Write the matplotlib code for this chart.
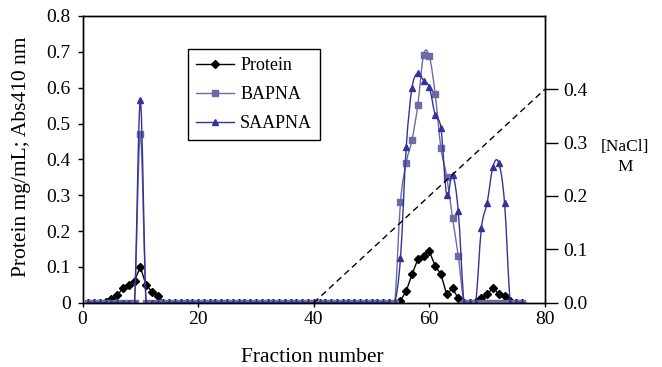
import numpy as np
import matplotlib
matplotlib.use("Agg")
import matplotlib.pyplot as plt
from matplotlib.path import Path
from matplotlib.patches import PathPatch
from matplotlib.lines import Line2D

plt.rcParams['font.family'] = ['Liberation Serif', 'DejaVu Serif']

# ---------------- data ----------------
fractions = list(range(1, 77))

protein_nonzero = {4: 0.003, 5: 0.010, 6: 0.021, 7: 0.040, 8: 0.049, 9: 0.061,
                   10: 0.100, 11: 0.049, 12: 0.031, 13: 0.020,
                   55: 0.005, 56: 0.033, 57: 0.079, 58: 0.121, 59: 0.131,
                   60: 0.143, 61: 0.103, 62: 0.079, 63: 0.023, 64: 0.040,
                   65: 0.012, 68: 0.003, 69: 0.013, 70: 0.023, 71: 0.042,
                   72: 0.024, 73: 0.018, 74: 0.005}
bapna_nonzero = {10: 0.470, 55: 0.280, 56: 0.391, 57: 0.455, 58: 0.552,
                 59: 0.692, 60: 0.687, 61: 0.583, 62: 0.431, 63: 0.352,
                 64: 0.237, 65: 0.130}
saapna_nonzero = {10: 0.565, 55: 0.124, 56: 0.434, 57: 0.600, 58: 0.640,
                  59: 0.620, 60: 0.601, 61: 0.524, 62: 0.487, 63: 0.301,
                  64: 0.357, 65: 0.255, 69: 0.208, 70: 0.279, 71: 0.380,
                  72: 0.390, 73: 0.279}

protein = [protein_nonzero.get(f, 0.0) for f in fractions]
bapna = [bapna_nonzero.get(f, 0.0) for f in fractions]
saapna = [saapna_nonzero.get(f, 0.0) for f in fractions]

nacl_x = [40, 80]
nacl_y = [0.0, 0.4]

left_ticks = [0, 0.1, 0.2, 0.3, 0.4, 0.5, 0.6, 0.7, 0.8]
left_labels = ["0", "0.1", "0.2", "0.3", "0.4", "0.5", "0.6", "0.7", "0.8"]
right_ticks = [0.0, 0.1, 0.2, 0.3, 0.4]
right_labels = ["0.0", "0.1", "0.2", "0.3", "0.4"]
x_ticks = [0, 20, 40, 60, 80]

# ---------------- style ----------------
C_PROT = "black"
C_BAP = "#6b6ba6"
C_SAA = "#33339a"
FS_TICK = 14
FS_LAB = 15.5
FS_LEG = 13


def smooth_path(x, y):
    """Excel-style smoothed line as cubic Bezier path through the data."""
    x = np.asarray(x, float)
    y = np.asarray(y, float)
    n = len(x)
    verts = [(x[0], y[0])]
    codes = [Path.MOVETO]
    for i in range(n - 1):
        p0 = np.array([x[max(i - 1, 0)], y[max(i - 1, 0)]])
        p1 = np.array([x[i], y[i]])
        p2 = np.array([x[i + 1], y[i + 1]])
        p3 = np.array([x[min(i + 2, n - 1)], y[min(i + 2, n - 1)]])
        c1 = p1 + (p2 - p0) / 6.0
        c2 = p2 - (p3 - p1) / 6.0
        verts += [tuple(c1), tuple(c2), tuple(p2)]
        codes += [Path.CURVE4] * 3
    return Path(verts, codes)


fig = plt.figure(figsize=(6.62, 3.67), dpi=100)
L, R, B, T = 82.5 / 662, 545 / 662, 1 - 302.7 / 367, 1 - 16 / 367
ax = fig.add_axes([L, B, R - L, T - B])

# Protein: straight lines
ax.plot(fractions, protein, color=C_PROT, lw=1.0, marker='D', ms=3.6,
        mec=C_PROT, mfc=C_PROT, zorder=2)
# BAPNA: smoothed
ax.add_patch(PathPatch(smooth_path(fractions, bapna), fill=False,
                       edgecolor=C_BAP, lw=1.0, zorder=3))
ax.plot(fractions, bapna, ls='none', marker='s', ms=4.0, color=C_BAP, zorder=3)
# SAAPNA: smoothed
ax.add_patch(PathPatch(smooth_path(fractions, saapna), fill=False,
                       edgecolor=C_SAA, lw=1.0, zorder=4))
ax.plot(fractions, saapna, ls='none', marker='^', ms=5.0, color=C_SAA, zorder=4)

ax.set_xlim(0, 80)
ax.set_ylim(0, 0.8)
ax.set_xticks(x_ticks)
ax.set_yticks(left_ticks)
ax.set_yticklabels(left_labels)
ax.tick_params(axis='y', direction='out', length=3.6, width=1,
               labelsize=FS_TICK, pad=5)
ax.tick_params(axis='x', direction='out', length=3, width=1,
               labelsize=FS_TICK, pad=3)
for s in ax.spines.values():
    s.set_linewidth(1.0)

fig.text(312 / 662, 1 - 361.7 / 367, "Fraction number", ha='center',
         va='baseline', fontsize=FS_LAB)
fig.text(22 / 662, 1 - 157 / 367, "Protein mg/mL; Abs410 nm", ha='center',
         va='center', rotation=90, fontsize=FS_LAB)

ax2 = ax.twinx()
ax2.plot(nacl_x, nacl_y, color='black', lw=1.0, ls=(0, (4.5, 3)), zorder=5)
ax2.set_ylim(0, 0.537)
ax2.set_yticks(right_ticks)
ax2.set_yticklabels(right_labels)
ax2.tick_params(direction='out', length=9, width=1, labelsize=FS_TICK, pad=4)
for s in ax2.spines.values():
    s.set_linewidth(1.0)

fig.text(625 / 662, 1 - 147 / 367, "[NaCl]", ha='center', va='center', fontsize=12.5)
fig.text(625 / 662, 1 - 167 / 367, "M", ha='center', va='center', fontsize=12.5)

handles = [
    Line2D([], [], color=C_PROT, lw=1.0, marker='D', ms=3.6),
    Line2D([], [], color=C_BAP, lw=1.0, marker='s', ms=4.0),
    Line2D([], [], color=C_SAA, lw=1.0, marker='^', ms=5.0),
]
leg = ax2.legend(handles, ["Protein", "BAPNA", "SAAPNA"], loc='upper left',
                 bbox_to_anchor=(0.229, 0.884), fontsize=FS_LEG, numpoints=1,
                 frameon=True, fancybox=False, edgecolor='black', framealpha=1,
                 handlelength=2.1, labelspacing=0.68, borderpad=0.42,
                 handletextpad=0.35, borderaxespad=0)
leg.get_frame().set_linewidth(1.0)

fig.savefig("out.png", dpi=100)
